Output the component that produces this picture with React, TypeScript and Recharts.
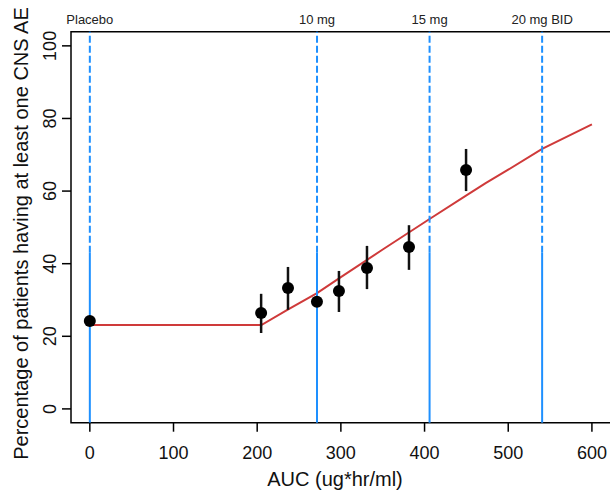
import React from 'react';
import {
  ComposedChart,
  XAxis,
  YAxis,
  Scatter,
  Line,
  ErrorBar,
  ReferenceLine,
  ReferenceArea,
} from 'recharts';

// ---- data ----
const xTicks = [0, 100, 200, 300, 400, 500, 600];
const yTicks = [0, 20, 40, 60, 80, 100];

const doseLabels = ['Placebo', '10 mg', '15 mg', '20 mg BID'];
const doseAuc = [0, 271.5, 406, 540.5];

const obsAuc = [0, 204.7, 236.8, 271.4, 297.7, 331.2, 381.4, 449.6];
const obsPct = [24.2, 26.4, 33.3, 29.5, 32.5, 38.8, 44.6, 65.8];
const obsLow = [24.2, 20.9, 27.3, 29.5, 26.7, 33.0, 38.3, 60.0];
const obsHigh = [24.2, 31.7, 39.1, 29.5, 38.0, 44.9, 50.6, 71.6];

const fitAuc = [0, 205, 236, 271.5, 300, 350, 406, 450, 473, 500, 540.5, 600];
const fitPct = [23.1, 23.1, 27.3, 31.9, 36.3, 43.9, 52.3, 58.8, 62.2, 65.9, 71.6, 78.4];

// ---- derived tables ----
const obsData = obsAuc.map((x, i) => ({
  x,
  y: obsPct[i],
  err: [obsPct[i] - obsLow[i], obsHigh[i] - obsPct[i]],
}));
const fitData = fitAuc.map((x, i) => ({ x, y: fitPct[i] }));

const X_DOMAIN: [number, number] = [-22.5, 624];
const Y_DOMAIN: [number, number] = [-3.8, 103.9];
const SOLID_SPLIT = 43;

const FONT = '"Liberation Sans", Arial, Helvetica, sans-serif';
const BLUE = '#1e90ff';
const RED = '#cf3a3a';

const BottomTick = (props: any) => {
  const { x, y, payload } = props;
  return (
    <text x={x} y={y + 25.5} textAnchor="middle" fontSize={18} fontFamily={FONT} fill="#111">
      {payload.value}
    </text>
  );
};

const LeftTick = (props: any) => {
  const { x, y, payload } = props;
  const cx = x - 3.5;
  return (
    <text
      x={cx}
      y={y}
      transform={`rotate(-90, ${cx}, ${y})`}
      textAnchor="middle"
      fontSize={18}
      fontFamily={FONT}
      fill="#111"
    >
      {payload.value}
    </text>
  );
};

const Dot = (props: any) => {
  const { cx, cy } = props;
  return <circle cx={cx} cy={cy} r={6} fill="#000" />;
};

const doseLabelContent = (text: string) => (p: any) => {
  const vb = p.viewBox || {};
  return (
    <text x={vb.x} y={24} textAnchor="middle" fontSize={13} fontFamily={FONT} fill="#222">
      {text}
    </text>
  );
};

export default function App() {
  return (
    <div
      style={{
        position: 'absolute',
        left: 0,
        top: 0,
        width: 610,
        height: 492,
        overflow: 'hidden',
        background: '#fff',
      }}
    >
      <ComposedChart width={612} height={492} margin={{ top: 31.7, right: 0, bottom: 0, left: 0 }}>
        <XAxis
          dataKey="x"
          type="number"
          domain={X_DOMAIN}
          ticks={xTicks}
          height={69.3}
          axisLine={false}
          tickLine={{ stroke: '#000', strokeWidth: 1.5 }}
          tickSize={9}
          tickMargin={2}
          tick={<BottomTick />}
          interval={0}
          label={{
            content: () => (
              <text x={335} y={486} textAnchor="middle" fontSize={20} fontFamily={FONT} fill="#111">
                AUC (ug*hr/ml)
              </text>
            ),
          }}
        />
        <YAxis
          dataKey="y"
          type="number"
          domain={Y_DOMAIN}
          ticks={yTicks}
          width={71}
          axisLine={false}
          tickLine={{ stroke: '#000', strokeWidth: 1.5 }}
          tickSize={9}
          tickMargin={2}
          tick={<LeftTick />}
          interval={0}
          label={{
            content: () => (
              <text
                x={28}
                y={233.5}
                transform="rotate(-90, 28, 233.5)"
                textAnchor="middle"
                fontSize={20}
                fontFamily={FONT}
                fill="#111"
              >
                Percentage of patients having at least one CNS AE
              </text>
            ),
          }}
        />
        <Line
          data={fitData}
          dataKey="y"
          type="linear"
          stroke={RED}
          strokeWidth={2}
          dot={false}
          activeDot={false}
          isAnimationActive={false}
        />
        <Scatter data={obsData} dataKey="y" shape={<Dot />} isAnimationActive={false}>
          <ErrorBar dataKey="err" direction="y" width={0} stroke="#111" strokeWidth={2.5} isAnimationActive={false} />
        </Scatter>
        {doseAuc.map((d) => (
          <ReferenceLine
            key={`s${d}`}
            segment={[
              { x: d, y: Y_DOMAIN[0] },
              { x: d, y: SOLID_SPLIT },
            ]}
            stroke={BLUE}
            strokeWidth={2}
          />
        ))}
        {doseAuc.map((d, i) => (
          <ReferenceLine
            key={`d${d}`}
            segment={[
              { x: d, y: SOLID_SPLIT },
              { x: d, y: Y_DOMAIN[1] },
            ]}
            stroke={BLUE}
            strokeWidth={2}
            strokeDasharray="7 3"
            label={{ content: doseLabelContent(doseLabels[i]) }}
          />
        ))}
        <ReferenceArea
          x1={X_DOMAIN[0]}
          x2={X_DOMAIN[1]}
          y1={Y_DOMAIN[0]}
          y2={Y_DOMAIN[1]}
          fill="none"
          fillOpacity={0}
          stroke="#000"
          strokeWidth={1.5}
        />
      </ComposedChart>
    </div>
  );
}
